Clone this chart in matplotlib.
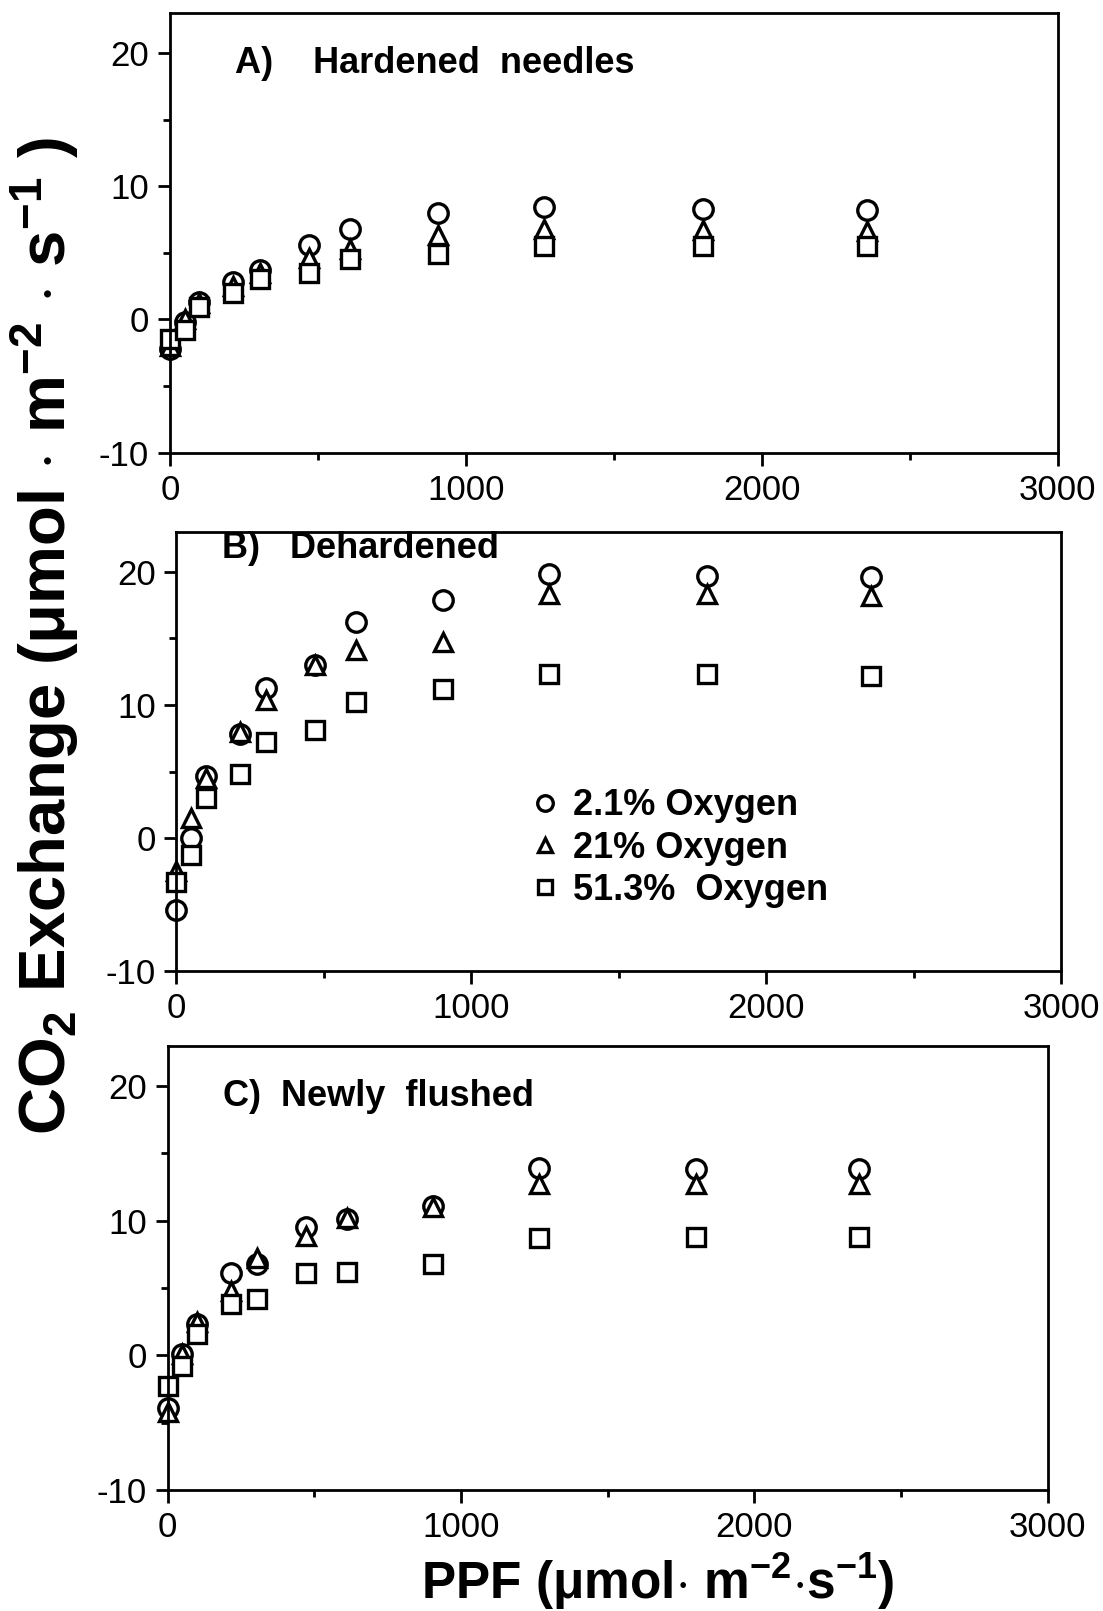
import matplotlib
matplotlib.use("Agg")
import matplotlib.pyplot as plt
from matplotlib import font_manager

# pick a narrow sans if it is there, the scan looks like condensed Helvetica
names = {f.name for f in font_manager.fontManager.ttflist}
fam = 'Liberation Sans Narrow' if 'Liberation Sans Narrow' in names else 'Liberation Sans'
plt.rcParams['font.family'] = [fam, 'DejaVu Sans']
plt.rcParams['mathtext.fontset'] = 'custom'
plt.rcParams['mathtext.rm'] = fam
plt.rcParams['mathtext.bf'] = fam + ':bold'
plt.rcParams['mathtext.default'] = 'bf'
plt.rcParams['axes.unicode_minus'] = False

# PPF levels (umol m-2 s-1)
ppf = [0, 50, 100, 215, 305, 470, 610, 905, 1265, 1800, 2355]

# A) Hardened needles
a_o2_low = [-2.2, -0.2, 1.3, 2.8, 3.7, 5.6, 6.8, 8.0, 8.4, 8.3, 8.2]
a_o2_mid = [-2.0, 0.0, 1.2, 2.5, 3.5, 4.6, 5.3, 6.3, 6.8, 6.7, 6.6]
a_o2_high = [-1.5, -0.8, 0.9, 2.0, 3.0, 3.5, 4.5, 4.9, 5.5, 5.5, 5.5]

# B) Dehardened
b_o2_low = [-5.4, 0.0, 4.7, 7.8, 11.3, 13.0, 16.2, 17.9, 19.8, 19.7, 19.6]
b_o2_mid = [-2.5, 1.5, 4.5, 8.0, 10.4, 13.0, 14.1, 14.7, 18.3, 18.3, 18.2]
b_o2_high = [-3.3, -1.3, 3.0, 4.8, 7.2, 8.1, 10.2, 11.2, 12.3, 12.3, 12.2]

# C) Newly flushed
c_o2_low = [-3.9, 0.1, 2.3, 6.1, 6.8, 9.5, 10.1, 11.1, 13.9, 13.8, 13.8]
c_o2_mid = [-4.2, 0.1, 2.5, 4.8, 7.2, 8.9, 10.2, 11.0, 12.7, 12.7, 12.7]
c_o2_high = [-2.3, -0.8, 1.6, 3.8, 4.2, 6.1, 6.2, 6.8, 8.7, 8.8, 8.8]

labels = ['2.1% Oxygen', '21% Oxygen', '51.3%  Oxygen']
titles = ['A)    Hardened  needles', 'B)   Dehardened', 'C)  Newly  flushed']

fig = plt.figure(figsize=(11.03, 16.11), dpi=100)
boxes = [[0.154, 0.719, 0.805, 0.273],
         [0.160, 0.397, 0.802, 0.273],
         [0.152, 0.075, 0.798, 0.276]]
title_pos = [(220, 19.2), (155, 21.7), (190, 19.2)]
panels = [(a_o2_low, a_o2_mid, a_o2_high),
          (b_o2_low, b_o2_mid, b_o2_high),
          (c_o2_low, c_o2_mid, c_o2_high)]

for i in range(3):
    ax = fig.add_axes(boxes[i])
    low, mid, high = panels[i]
    kw = dict(ls='none', mfc='white', mec='black', mew=2.4, clip_on=False)
    h1, = ax.plot(ppf, low, marker='o', ms=14, label=labels[0], **kw)
    h2, = ax.plot(ppf, mid, marker='^', ms=13, label=labels[1], **kw)
    h3, = ax.plot(ppf, high, marker='s', ms=13, label=labels[2], **kw)
    ax.set_xlim(0, 3000)
    ax.set_ylim(-10, 23)
    ax.set_xticks([0, 1000, 2000, 3000])
    ax.set_xticks([500, 1500, 2500], minor=True)
    ax.set_yticks([-10, 0, 10, 20])
    ax.set_yticks([-5, 5, 15], minor=True)
    ax.tick_params(which='both', direction='out', width=2, labelsize=25, pad=6)
    ax.tick_params(which='major', length=9)
    ax.tick_params(which='minor', length=5)
    for s in ax.spines.values():
        s.set_linewidth(2)
    ax.text(title_pos[i][0], title_pos[i][1], titles[i], fontsize=26,
            fontweight='bold', va='center', ha='left')
    if i == 1:
        ax.legend(handles=[h1, h2, h3], loc='upper left',
                  bbox_to_anchor=(0.362, 0.49), frameon=False,
                  prop={'size': 26, 'weight': 'bold'}, handlelength=0.9,
                  handletextpad=0.3, labelspacing=0.2, markerscale=0.8)

fig.text(0.040, 0.605, r'CO$_{2}$ Exchange ($\mu$mol $\cdot$ m$^{-2}$ $\cdot$ s$^{-1}$ )',
         rotation=90, fontsize=47, fontweight='bold', ha='center', va='center')
fig.text(0.596, 0.018, r'PPF ($\mu$mol$\cdot$ m$^{-2}$$\cdot$s$^{-1}$)',
         fontsize=37, fontweight='bold', ha='center', va='center')

fig.savefig('out.png', dpi=100)
